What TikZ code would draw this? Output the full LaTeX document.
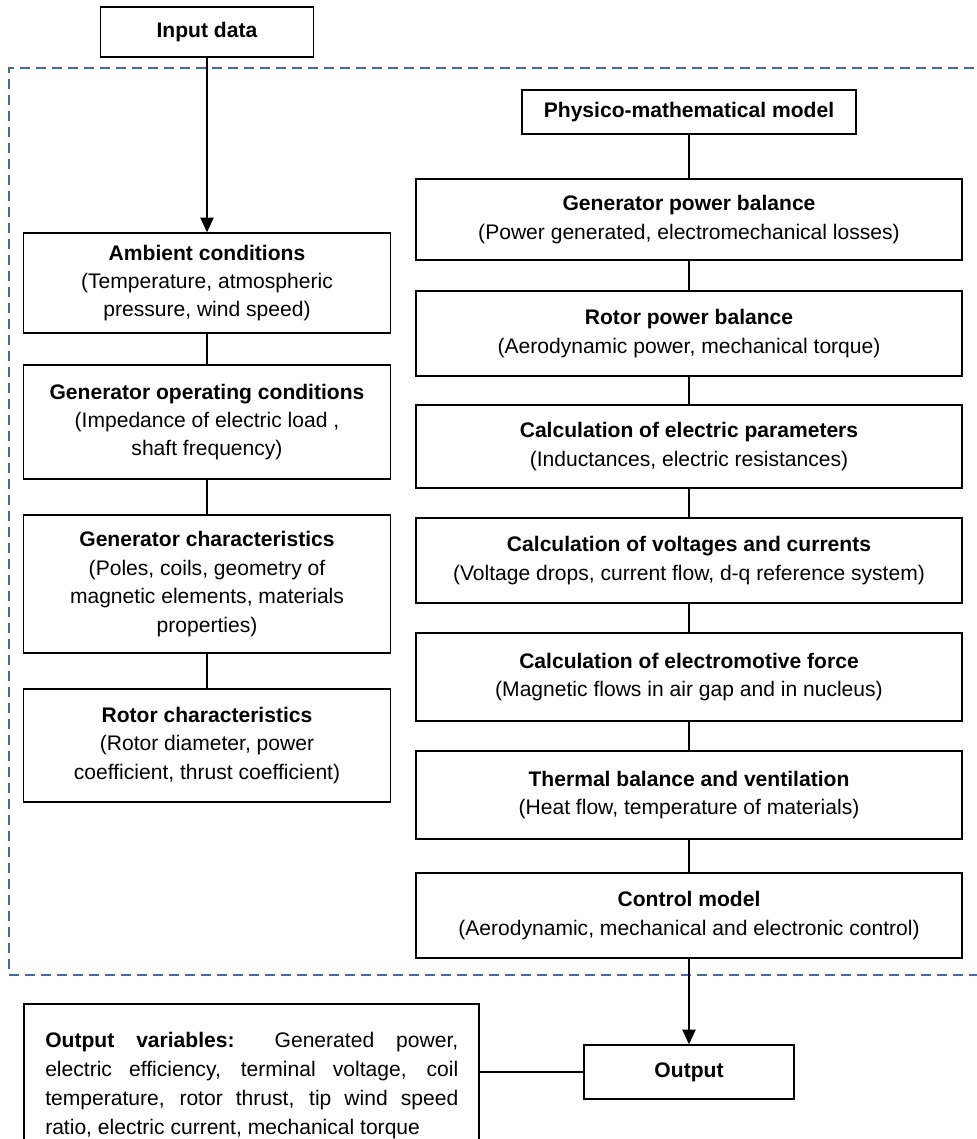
\documentclass[tikz,border=0pt]{standalone}
\usepackage{fontspec}
\setmainfont{Liberation Sans}
\usetikzlibrary{arrows.meta}
\definecolor{dashblue}{HTML}{4A6A96}
\newlength\ovwidth
\setlength\ovwidth{309.75pt}
\begin{document}
\begin{tikzpicture}[x=0.75pt,y=-0.75pt,
  box/.style={draw=black, line width=1.1pt, inner sep=0pt, align=center, font=\fontsize{15.8}{21.3}\selectfont},
  lbox/.style={box, minimum width=367*0.75pt},
  rbox/.style={box, minimum width=546*0.75pt},
  conn/.style={draw=black, line width=0.9pt},
  arr/.style={conn, -{Triangle[width=10pt,length=11pt]}},
]
\useasboundingbox (0,0) rectangle (976,1139);
\draw[dashblue, line width=1.1pt, dash pattern=on 7.5pt off 4.5pt] (990,68) -- (9,68) -- (9,975) -- (990,975);

\node[box, minimum width=213*0.75pt, minimum height=50*0.75pt] (input) at (207,32) {\textbf{Input data}};
\node[box, minimum width=334*0.75pt, minimum height=44*0.75pt] (phys) at (689,112) {\textbf{Physico-mathematical model}};

\node[lbox, minimum height=100*0.75pt] (amb) at (207,283) {\textbf{Ambient conditions}\\(Temperature, atmospheric\\pressure, wind speed)};
\node[lbox, minimum height=114*0.75pt] (goc) at (207,422) {\textbf{Generator operating conditions}\\(Impedance of electric load ,\\shaft frequency)};
\node[lbox, minimum height=138*0.75pt] (gc) at (207,584) {\textbf{Generator characteristics}\\(Poles, coils, geometry of\\magnetic elements, materials\\properties)};
\node[lbox, minimum height=113*0.75pt] (rc) at (207,745.5) {\textbf{Rotor characteristics}\\(Rotor diameter, power\\coefficient, thrust coefficient)};

\node[rbox, minimum height=81*0.75pt] (gpb) at (689,219.5) {\textbf{Generator power balance}\\(Power generated, electromechanical losses)};
\node[rbox, minimum height=85*0.75pt] (rpb) at (689,333.5) {\textbf{Rotor power balance}\\(Aerodynamic power, mechanical torque)};
\node[rbox, minimum height=83*0.75pt] (cep) at (689,446.5) {\textbf{Calculation of electric parameters}\\(Inductances, electric resistances)};
\node[rbox, minimum height=85*0.75pt] (cvc) at (689,560.5) {\textbf{Calculation of voltages and currents}\\(Voltage drops, current flow, d-q reference system)};
\node[rbox, minimum height=88*0.75pt] (cemf) at (689,677) {\textbf{Calculation of electromotive force}\\(Magnetic flows in air gap and in nucleus)};
\node[rbox, minimum height=88*0.75pt] (therm) at (689,795) {\textbf{Thermal balance and ventilation}\\(Heat flow, temperature of materials)};
\node[rbox, minimum height=85*0.75pt] (ctrl) at (689,915.5) {\textbf{Control model}\\(Aerodynamic, mechanical and electronic control)};

\node[box, minimum width=210*0.75pt, minimum height=54*0.75pt] (out) at (689,1072) {\textbf{Output}};
\node[box, minimum width=455*0.75pt, minimum height=160*0.75pt] (outvars) at (251.5,1084) {};
\node[anchor=north west, inner sep=0pt, align=left, font=\fontsize{15.8}{21.75}\selectfont] (outtext) at (45,1032)
  {\makebox[\ovwidth][s]{\textbf{Output variables:} Generated power,}\\
   \makebox[\ovwidth][s]{electric efficiency, terminal voltage, coil}\\
   \makebox[\ovwidth][s]{temperature, rotor thrust, tip wind speed}\\
   ratio, electric current, mechanical torque};

\draw[arr] (input.south) -- (amb.north);
\draw[conn] (amb.south) -- (goc.north);
\draw[conn] (goc.south) -- (gc.north);
\draw[conn] (gc.south) -- (rc.north);

\draw[conn] (phys.south) -- (gpb.north);
\draw[conn] (gpb.south) -- (rpb.north);
\draw[conn] (rpb.south) -- (cep.north);
\draw[conn] (cep.south) -- (cvc.north);
\draw[conn] (cvc.south) -- (cemf.north);
\draw[conn] (cemf.south) -- (therm.north);
\draw[conn] (therm.south) -- (ctrl.north);
\draw[arr] (ctrl.south) -- (out.north);
\draw[conn] (out.west) -- (out.west -| outvars.east);
\end{tikzpicture}
\end{document}
